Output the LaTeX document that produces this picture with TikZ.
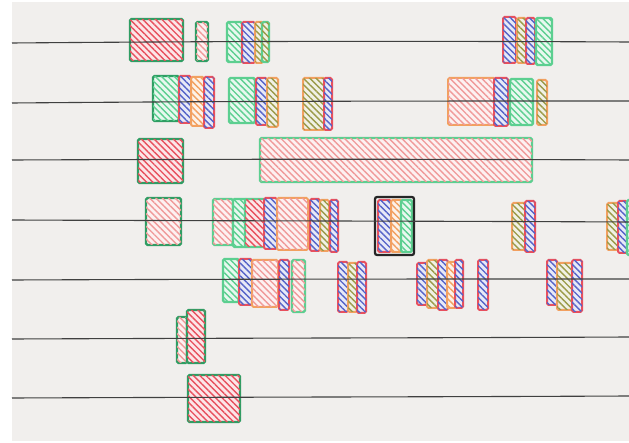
\documentclass[tikz,border=0pt]{standalone}
\usepackage{tikz}
\usetikzlibrary{patterns.meta}

\definecolor{mkgreen}{HTML}{2F9D63}
\definecolor{mkmint}{HTML}{5CCF90}
\definecolor{mkred}{HTML}{E8505E}
\definecolor{mkorange}{HTML}{F2A060}
\definecolor{mkblue}{HTML}{5563C8}
\definecolor{mkolive}{HTML}{9A9A48}
\definecolor{mkpink}{HTML}{F09A9A}
\definecolor{paper}{HTML}{F1EFED}

\begin{document}
\begin{tikzpicture}[x=1pt, y=-1pt,
  gline/.style={draw=mkgreen, line width=2.4pt, rounded corners=1.5pt},
  mline/.style={draw=mkmint, line width=2.2pt, rounded corners=1.5pt},
  rline/.style={draw=mkred, line width=2pt, rounded corners=1.5pt},
  oline/.style={draw=mkorange, line width=2pt, rounded corners=1.5pt},
  kline/.style={draw=black!85, line width=2.2pt, rounded corners=2pt},
  hatch/.style={fill=#1!14, postaction={pattern={Lines[angle=-45,distance=4.5pt,line width=1.4pt]}, pattern color=#1}},
  hred/.style={hatch=mkred},
  hpink/.style={hatch=mkpink},
  hgreen/.style={hatch=mkmint},
  hblue/.style={hatch=mkblue},
  horange/.style={hatch=mkorange},
  holive/.style={hatch=mkolive}]
\clip (0,0) rectangle (629,443);
\fill[white] (0,0) rectangle (629,443);
\fill[paper] (12,2) rectangle (629,441);

% row 1
\path[gline,hred] (130,19) rectangle (183,61);
\path[gline,hpink] (196,22) rectangle (208,61);
\path[mline,hgreen] (227,22) rectangle (242,62);
\path[rline,hblue] (242,22) rectangle (255,63);
\path[oline,holive] (255,22) rectangle (263,63);
\path[mline,holive] (262,22) rectangle (269,62);
\path[rline,hblue] (503,17) rectangle (516,63);
\path[oline,holive] (517,18) rectangle (526,63);
\path[rline,hblue] (526,18) rectangle (535,64);
\path[mline,hgreen] (536,18) rectangle (552,65);

% row 2
\path[gline,hgreen] (153,76) rectangle (179,121);
\path[rline,hblue] (179,76) rectangle (191,123);
\path[oline,horange] (191,77) rectangle (204,126);
\path[rline,hblue] (204,77) rectangle (214,128);
\path[mline,hgreen] (229,78) rectangle (255,123);
\path[rline,hblue] (256,78) rectangle (267,125);
\path[oline,holive] (267,78) rectangle (278,127);
\path[oline,holive] (303,78) rectangle (325,130);
\path[rline,hblue] (324,78) rectangle (332,130);
\path[oline,hpink] (448,78) rectangle (495,125);
\path[rline,hblue] (494,78) rectangle (508,126);
\path[mline,hgreen] (510,79) rectangle (533,125);
\path[oline,holive] (537,80) rectangle (547,125);

% row 3
\path[gline,hred] (138,139) rectangle (183,183);
\path[mline,hpink] (260,138) rectangle (532,182);

% row 4
\path[gline,hpink] (146,198) rectangle (181,245);
\path[mline,hpink] (213,199) rectangle (233,245);
\path[mline,hgreen] (233,199) rectangle (247,247);
\path[mline,hred] (245,199) rectangle (265,247);
\path[rline,hblue] (264,198) rectangle (277,249);
\path[oline,hpink] (277,198) rectangle (308,250);
\path[rline,hblue] (310,199) rectangle (320,251);
\path[oline,holive] (320,200) rectangle (329,251);
\path[rline,hblue] (330,200) rectangle (338,252);
\path[rline,hblue] (378,200) rectangle (391,252);
\path[oline,horange] (391,200) rectangle (402,252);
\path[mline,hgreen] (401,200) rectangle (412,252);
\draw[kline] (375,197) rectangle (414,255);
\path[oline,holive] (512,203) rectangle (525,250);
\path[rline,hblue] (525,201) rectangle (535,252);
\path[oline,holive] (607,203) rectangle (618,250);
\path[rline,hblue] (618,201) rectangle (627,253);
\path[mline,hgreen] (627,200) rectangle (636,255);

% row 5
\path[mline,hgreen] (223,259) rectangle (239,302);
\path[rline,hblue] (239,259) rectangle (252,305);
\path[oline,hpink] (252,260) rectangle (278,307);
\path[rline,hblue] (279,260) rectangle (289,310);
\path[mline,hpink] (292,260) rectangle (305,312);
\path[rline,hblue] (338,262) rectangle (348,312);
\path[oline,holive] (348,263) rectangle (357,312);
\path[rline,hblue] (357,262) rectangle (366,313);
\path[rline,hblue] (417,263) rectangle (427,305);
\path[oline,holive] (427,260) rectangle (438,308);
\path[rline,hblue] (438,260) rectangle (448,310);
\path[oline,horange] (447,262) rectangle (456,308);
\path[rline,hblue] (455,260) rectangle (463,308);
\path[rline,hblue] (478,260) rectangle (488,310);
\path[rline,hblue] (547,260) rectangle (557,305);
\path[oline,holive] (557,263) rectangle (572,310);
\path[rline,hblue] (572,260) rectangle (582,312);

% rows 6 and 7
\path[gline,hpink] (177,317) rectangle (187,363);
\path[gline,hred] (187,310) rectangle (205,363);
\path[gline,hred] (188,375) rectangle (240,422);

% ruled lines
\foreach \ya/\yb/\yc in {43/41/42, 103/101/101, 160/159/160, 220/221/222, 280/279/279, 339/338/337, 398/397/396}
  \draw[black!75, line width=1.1pt] (12,\ya) .. controls (250,\yb) and (420,\yb) .. (629,\yc);
\end{tikzpicture}
\end{document}
